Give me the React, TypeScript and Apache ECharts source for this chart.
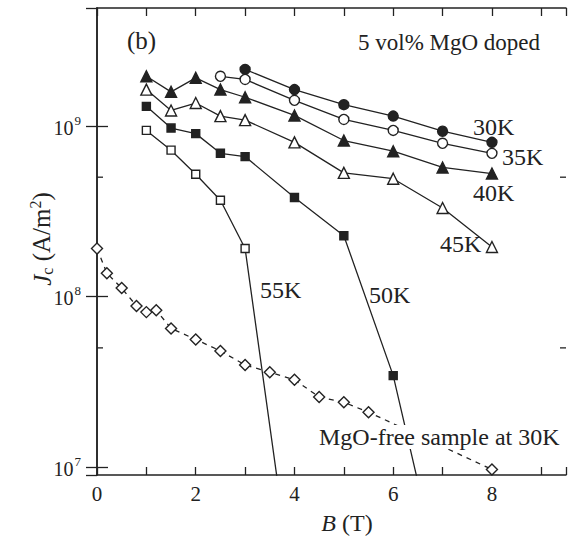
import React, { useEffect, useRef } from "react";
import * as echarts from "echarts";

const INK = "#222222";
const FONT = '"Liberation Serif", "DejaVu Serif", "Times New Roman", serif';

// 5 vol% MgO doped, B (T) and Jc (A/m^2)
const B30 = [3, 4, 5, 6, 7, 8];
const J30 = [2.14e9, 1.63e9, 1.33e9, 1.14e9, 9.3e8, 8.0e8];

const B35 = [2.5, 3, 4, 5, 6, 7, 8];
const J35 = [1.95e9, 1.87e9, 1.41e9, 1.09e9, 9.4e8, 7.9e8, 6.9e8];

const B40 = [1, 1.5, 2, 2.5, 3, 4, 5, 6, 7, 8];
const J40 = [1.95e9, 1.58e9, 1.91e9, 1.63e9, 1.47e9, 1.15e9, 8.2e8, 7.1e8, 5.7e8, 5.25e8];

const B45 = [1, 1.5, 2, 2.5, 3, 4, 5, 6, 7, 8];
const J45 = [1.63e9, 1.23e9, 1.36e9, 1.14e9, 1.08e9, 8.0e8, 5.3e8, 4.9e8, 3.3e8, 1.95e8];

const B50 = [1, 1.5, 2, 2.5, 3, 4, 5, 6, 6.5];
const J50 = [1.3e9, 9.7e8, 9.0e8, 6.9e8, 6.6e8, 3.8e8, 2.27e8, 3.44e7, 8.2e6];

const B55 = [1, 1.5, 2, 2.5, 3, 3.7];
const J55 = [9.4e8, 7.2e8, 5.2e8, 3.66e8, 1.91e8, 6.7e6];

// MgO-free sample at 30K
const Bfree = [0, 0.2, 0.5, 0.8, 1.0, 1.2, 1.5, 2, 2.5, 3, 3.5, 4, 4.5, 5, 5.5, 8];
const Jfree = [1.91e8, 1.37e8, 1.12e8, 8.8e7, 8.1e7, 8.3e7, 6.5e7, 5.6e7, 4.8e7, 3.97e7, 3.6e7, 3.25e7, 2.58e7, 2.4e7, 2.1e7, 9.7e6];

const xTickLabels = [0, 2, 4, 6, 8];
const yMinorTicks = [5e7, 5e8];
const X_MIN = 0;
const X_MAX = 9.5;
const Y_MIN = 9e6;
const Y_MAX = 4.9e9;

export default function App() {
  const ref = useRef<HTMLDivElement>(null);
  useEffect(() => {
    document.body.style.margin = "0";
    const chart = echarts.init(ref.current!, null, { renderer: "svg" });

    const mk = (
      name: string,
      xs: number[],
      ys: number[],
      symbol: string,
      filled: boolean,
      size: number,
      dashed = false
    ) => ({
      type: "line",
      name,
      data: xs.map((x, i) =>
        ys[i] < Y_MIN ? { value: [x, ys[i]], symbol: "none" } : [x, ys[i]]
      ),
      symbol,
      symbolSize: size,
      showAllSymbol: true,
      clip: true,
      lineStyle: { color: INK, width: 1.3, type: dashed ? [5, 5] : "solid" },
      itemStyle: { color: filled ? INK : "#fff", borderColor: INK, borderWidth: 1.4 },
      emphasis: { disabled: true },
      z: 3,
    });

    const axisLine = { show: true, lineStyle: { color: INK, width: 1.5 } };

    chart.setOption({
      animation: false,
      backgroundColor: "#fff",
      grid: { left: 97, right: 2, top: 8, bottom: 62, containLabel: false },
      xAxis: [
        {
          type: "value",
          min: X_MIN,
          max: X_MAX,
          interval: 1,
          position: "bottom",
          axisLine,
          axisTick: { inside: true, length: 8, lineStyle: { color: INK, width: 1.3 } },
          axisLabel: {
            margin: 8,
            fontSize: 21,
            fontFamily: FONT,
            color: INK,
            formatter: (v: number) => (xTickLabels.includes(v) ? String(v) : ""),
          },
          splitLine: { show: false },
        },
        {
          type: "value",
          min: X_MIN,
          max: X_MAX,
          interval: 1,
          position: "top",
          axisLine,
          axisTick: { inside: true, length: 8, lineStyle: { color: INK, width: 1.3 } },
          axisLabel: { show: false },
          splitLine: { show: false },
        },
      ],
      yAxis: [
        {
          type: "log",
          logBase: 10,
          min: Y_MIN,
          max: Y_MAX,
          position: "left",
          axisLine,
          axisTick: { inside: true, length: 11, lineStyle: { color: INK, width: 1.3 } },
          axisLabel: {
            margin: 16,
            showMinLabel: false,
            showMaxLabel: false,
            formatter: (v: number) => {
              const e = Math.log10(v);
              if (Math.abs(e - Math.round(e)) > 1e-6) return "";
              return `{b|10}{s|${Math.round(e)}}`;
            },
            rich: {
              b: { fontSize: 20, fontFamily: FONT, color: INK, lineHeight: 24, verticalAlign: "bottom" },
              s: { fontSize: 13, fontFamily: FONT, color: INK, lineHeight: 24, verticalAlign: "top", padding: [0, 0, 8, 1] },
            },
          },
          splitLine: { show: false },
        },
        {
          type: "log",
          logBase: 10,
          min: Y_MIN,
          max: Y_MAX,
          position: "right",
          axisLine,
          axisTick: { inside: true, length: 11, lineStyle: { color: INK, width: 1.3 } },
          axisLabel: { show: false },
          splitLine: { show: false },
        },
      ],
      series: [
        mk("30K", B30, J30, "circle", true, 10),
        mk("35K", B35, J35, "circle", false, 10),
        mk("40K", B40, J40, "triangle", true, 11),
        mk("45K", B45, J45, "triangle", false, 11),
        mk("50K", B50, J50, "rect", true, 8),
        mk("55K", B55, J55, "rect", false, 8),
        mk("MgO-free sample at 30K", Bfree, Jfree, "diamond", false, 11, true),
      ],
    });

    const xl = chart.convertToPixel({ xAxisIndex: 0 }, X_MIN) as number;
    const xr = chart.convertToPixel({ xAxisIndex: 0 }, X_MAX) as number;
    const ticks: any[] = [];
    yMinorTicks.forEach((v) => {
      const y = chart.convertToPixel({ yAxisIndex: 0 }, v) as number;
      ticks.push({
        type: "line",
        shape: { x1: xl, y1: y, x2: xl + 6, y2: y },
        style: { stroke: INK, lineWidth: 1.3 },
        z: 10,
      });
      ticks.push({
        type: "line",
        shape: { x1: xr - 6, y1: y, x2: xr, y2: y },
        style: { stroke: INK, lineWidth: 1.3 },
        z: 10,
      });
    });

    const txt = (text: string, x: number, y: number, size = 23, extra: any = {}) => ({
      type: "text",
      x,
      y,
      z: 20,
      style: {
        text,
        fill: INK,
        font: `${size}px ${FONT}`,
        textAlign: "left",
        textVerticalAlign: "middle",
        ...extra,
      },
    });

    chart.setOption({
      graphic: {
        elements: [
          ...ticks,
          txt("(b)", 127, 40, 25),
          txt("5 vol% MgO doped", 358, 42, 23),
          txt("30K", 473, 127, 24),
          txt("35K", 502, 157, 24),
          txt("40K", 473, 193, 24),
          txt("45K", 440, 244, 24),
          txt("50K", 369, 295, 24),
          txt("55K", 260, 290, 24),
          txt("MgO-free sample at 30K", 317, 437, 24, { backgroundColor: "#fff", padding: [0, 2] }),
          {
            type: "text",
            x: 347,
            y: 523,
            z: 20,
            style: {
              text: "{i|B} (T)",
              fill: INK,
              font: `24px ${FONT}`,
              textAlign: "center",
              textVerticalAlign: "middle",
              rich: {
                i: { fontSize: 24, fontStyle: "italic", fontFamily: FONT, fill: INK },
              },
            },
          },
          {
            type: "text",
            x: 41,
            y: 239,
            rotation: Math.PI / 2,
            z: 20,
            style: {
              text: "{i|J}{sub|c} (A/m{sup|2})",
              fill: INK,
              font: `25px ${FONT}`,
              textAlign: "center",
              textVerticalAlign: "middle",
              rich: {
                i: { fontSize: 25, fontStyle: "italic", fontFamily: FONT, fill: INK, lineHeight: 28, verticalAlign: "bottom" },
                sub: { fontSize: 16, fontFamily: FONT, fill: INK, lineHeight: 28, verticalAlign: "bottom" },
                sup: { fontSize: 16, fontFamily: FONT, fill: INK, lineHeight: 28, verticalAlign: "top" },
              },
            },
          },
        ],
      },
    });

    return () => chart.dispose();
  }, []);

  return <div ref={ref} style={{ width: 569, height: 537 }} />;
}
